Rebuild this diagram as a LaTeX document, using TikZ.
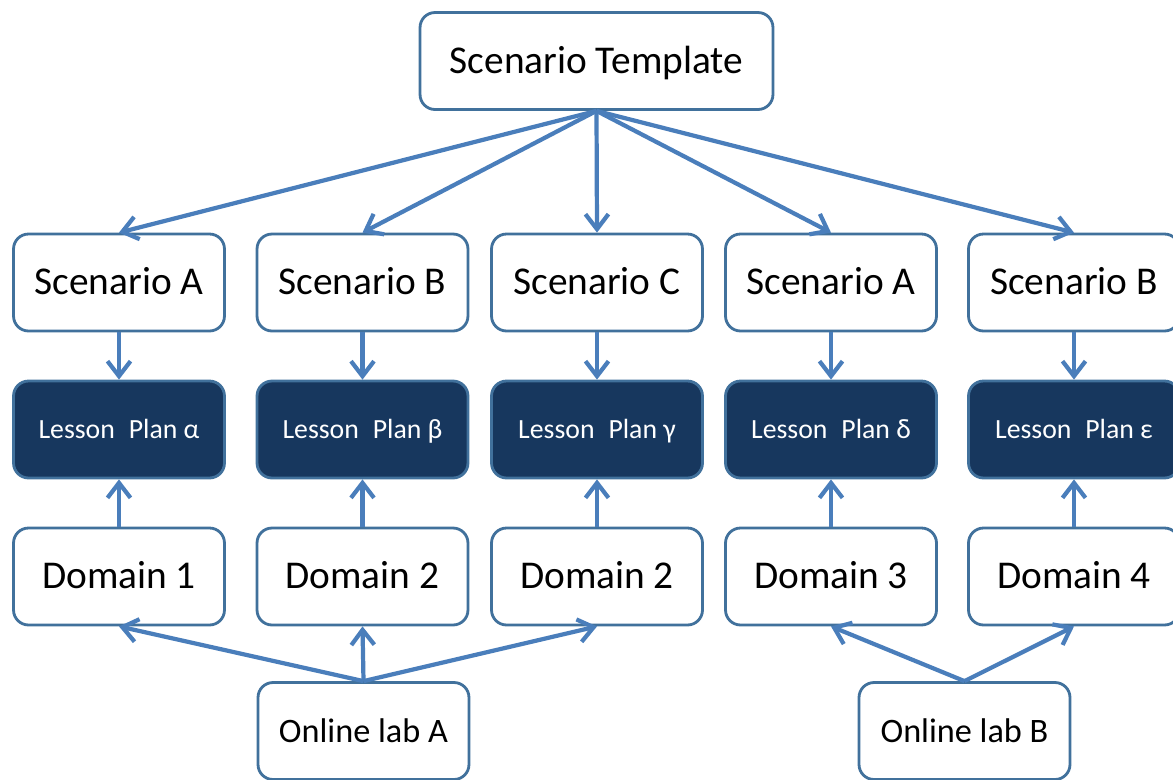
\documentclass[tikz,border=0pt]{standalone}
\usepackage{fontspec}
\setmainfont{Carlito}
\usetikzlibrary{arrows.meta}
\definecolor{boxline}{HTML}{41719C}
\definecolor{linkblue}{HTML}{4A7EBB}
\definecolor{planfill}{HTML}{17375E}

\begin{document}
\begin{tikzpicture}[
	x=0.02cm, y=-0.02cm,
  > = {Straight Barb[length=0.3cm,width=0.46cm]},
  box/.style = {draw=boxline, line width=1.6pt, rounded corners=0.3cm, fill=white, minimum width=4.22cm, minimum height=1.94cm, inner sep=0pt, text height=14pt, text depth=0pt, font=\fontsize{22.4}{26}\selectfont},
  plan/.style = {box, fill=planfill, text=white, text height=10pt, font=\fontsize{15.8}{18}\selectfont},
  lab/.style = {box, text height=12.5pt, font=\fontsize{19.5}{23}\selectfont},
  link/.style = {->, draw=linkblue, line width=2.4pt}
  ]
	\useasboundingbox (0,0) rectangle (1173,779);
	\clip (0,0) rectangle (1173,779);

	\node[box, minimum width=7.06cm] (tpl) at (596.5,61) {Scenario Template};

	\node[box] (sc1) at (119,282.5) {Scenario A};
	\node[box] (sc2) at (362.5,282.5) {Scenario B};
	\node[box] (sc3) at (597,282.5) {Scenario C};
	\node[box] (sc4) at (831,282.5) {Scenario A};
	\node[box] (sc5) at (1074,282.5) {Scenario B};

	\node[plan] (lp1) at (119,429.5) {Lesson\enspace Plan α};
	\node[plan] (lp2) at (362.5,429.5) {Lesson\enspace Plan β};
	\node[plan] (lp3) at (597,429.5) {Lesson\enspace Plan γ};
	\node[plan] (lp4) at (831,429.5) {Lesson\enspace Plan δ};
	\node[plan] (lp5) at (1074,429.5) {Lesson\enspace Plan ε};

	\node[box] (dm1) at (119,576.5) {Domain 1};
	\node[box] (dm2) at (362.5,576.5) {Domain 2};
	\node[box] (dm3) at (597,576.5) {Domain 2};
	\node[box] (dm4) at (831,576.5) {Domain 3};
	\node[box] (dm5) at (1074,576.5) {Domain 4};

	\node[lab] (labA) at (363.5,731) {Online lab A};
	\node[lab] (labB) at (964.5,731) {Online lab B};

	% template to scenarios
	\draw[link] (tpl.south) -- (sc1.north);
	\draw[link] (tpl.south) -- (sc2.north);
	\draw[link] (tpl.south) -- (sc3.north);
	\draw[link] (tpl.south) -- (sc4.north);
	\draw[link] (tpl.south) -- (sc5.north);

	% scenarios and domains into lesson plans
	\draw[link] (sc1) -- (lp1);
	\draw[link] (sc2) -- (lp2);
	\draw[link] (sc3) -- (lp3);
	\draw[link] (sc4) -- (lp4);
	\draw[link] (sc5) -- (lp5);
	\draw[link] (dm1) -- (lp1);
	\draw[link] (dm2) -- (lp2);
	\draw[link] (dm3) -- (lp3);
	\draw[link] (dm4) -- (lp4);
	\draw[link] (dm5) -- (lp5);

	% labs to domains
	\draw[link] (labA.north) -- (dm1.south);
	\draw[link] (labA.north) -- (dm2.south);
	\draw[link] (labA.north) -- (dm3.south);
	\draw[link] (labB.north) -- (dm4.south);
	\draw[link] (labB.north) -- (dm5.south);

\end{tikzpicture}
\end{document}
